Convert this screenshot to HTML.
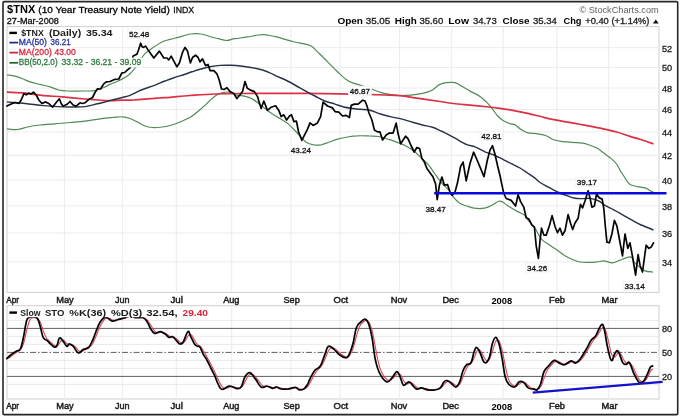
<!DOCTYPE html>
<html><head><meta charset="utf-8"><title>$TNX</title>
<style>html,body{margin:0;padding:0;background:#fff;width:680px;height:417px;overflow:hidden}</style></head>
<body>
<svg width="680" height="417" viewBox="0 0 680 417" style="position:absolute;left:0;top:0;will-change:transform;filter:blur(0.3px);font-family:'Liberation Sans',sans-serif">
<rect x="0" y="0" width="680" height="417" fill="#fff"/>
<rect x="3" y="1.6" width="674.7" height="413" rx="1.2" ry="1.2" fill="none" stroke="#262626" stroke-width="1.6"/>
<rect x="7.0" y="26.6" width="652.0" height="265.79999999999995" fill="#fff" stroke="#cfcfcf" stroke-width="1"/>
<rect x="7.0" y="305.7" width="652.0" height="93.30000000000001" fill="#fff" stroke="#cfcfcf" stroke-width="1"/>
<path d="M7.0,47.7H659.0M7.0,67.5H659.0M7.0,88.0H659.0M7.0,109.5H659.0M7.0,131.9H659.0M7.0,155.3H659.0M7.0,179.9H659.0M7.0,205.8H659.0M7.0,233.0H659.0M7.0,261.8H659.0M64.4,26.6V292.4M64.4,305.7V399.0M122.4,26.6V292.4M122.4,305.7V399.0M176.3,26.6V292.4M176.3,305.7V399.0M231.7,26.6V292.4M231.7,305.7V399.0M291,26.6V292.4M291,305.7V399.0M340,26.6V292.4M340,305.7V399.0M399.6,26.6V292.4M399.6,305.7V399.0M451.7,26.6V292.4M451.7,305.7V399.0M503.2,26.6V292.4M503.2,305.7V399.0M556.9,26.6V292.4M556.9,305.7V399.0M608.7,26.6V292.4M608.7,305.7V399.0" stroke="#ececec" stroke-width="1" fill="none"/>
<path d="M7.0,384.4H659.0M7.0,368.4H659.0M7.0,360.4H659.0M7.0,344.4H659.0M7.0,336.4H659.0M7.0,320.4H659.0" stroke="#e9e9e9" stroke-width="1" fill="none"/>
<path d="M7.0,328.4H659.0M7.0,376.4H659.0" stroke="#606060" stroke-width="1" fill="none"/>
<path d="M7.0,352.4H659.0" stroke="#606060" stroke-width="1" stroke-dasharray="6,2,1.5,2" fill="none"/>
<path d="M6.9,75.0 C8.2,75.2 12.4,75.6 15.0,76.2 C17.6,76.9 20.0,77.8 22.5,78.8 C25.0,79.7 27.1,81.0 30.0,81.9 C32.9,82.8 36.7,83.6 40.0,84.4 C43.3,85.2 46.9,86.0 50.0,86.9 C53.1,87.8 55.8,89.3 58.8,90.0 C61.7,90.7 63.1,90.8 67.5,91.0 C71.9,91.2 80.4,91.1 85.0,91.0 C89.6,90.9 91.9,91.2 95.0,90.6 C98.1,90.0 101.2,88.5 103.8,87.5 C106.2,86.5 107.7,85.4 110.0,84.4 C112.3,83.4 115.0,82.4 117.5,81.2 C120.0,80.1 122.9,78.8 125.0,77.5 C127.1,76.2 128.3,75.3 130.0,73.8 C131.7,72.2 133.3,70.2 135.0,68.0 C136.7,65.8 138.3,62.9 140.0,60.5 C141.7,58.1 142.9,55.7 145.0,53.6 C147.1,51.5 149.6,50.0 152.5,48.0 C155.4,46.0 159.6,43.2 162.5,41.8 C165.4,40.3 167.3,40.2 170.0,39.4 C172.7,38.6 175.4,38.1 178.8,37.2 C182.2,36.3 186.9,34.5 190.6,34.0 C194.3,33.5 197.7,33.6 200.9,34.0 C204.1,34.4 206.8,35.7 209.7,36.5 C212.6,37.3 215.7,38.0 218.5,38.7 C221.3,39.4 223.9,40.5 226.6,40.5 C229.3,40.5 231.4,39.2 234.7,38.7 C238.0,38.2 242.6,37.8 246.5,37.2 C250.4,36.6 255.3,35.4 258.2,35.0 C261.1,34.6 262.1,34.5 264.1,34.6 C266.1,34.7 267.8,35.1 270.0,35.5 C272.2,35.9 273.8,36.2 277.5,37.2 C281.2,38.2 288.8,40.5 292.5,41.5 C296.2,42.5 297.0,42.4 300.0,43.1 C303.0,43.8 307.4,44.0 310.7,45.8 C313.9,47.6 316.6,51.0 319.5,53.8 C322.4,56.6 325.4,59.6 328.4,62.6 C331.4,65.5 334.3,68.7 337.3,71.5 C340.3,74.3 343.5,77.6 346.2,79.5 C348.9,81.4 350.6,82.1 353.3,83.1 C356.0,84.1 358.6,84.5 362.2,85.7 C365.8,86.9 370.8,88.9 374.6,90.2 C378.5,91.5 381.2,92.8 385.3,93.7 C389.4,94.6 395.3,95.2 399.5,95.5 C403.7,95.8 407.1,95.5 410.7,95.2 C414.3,94.9 417.8,94.5 421.3,93.7 C424.9,92.9 429.1,91.7 432.0,90.2 C434.9,88.7 436.6,86.2 439.0,84.9 C441.4,83.7 443.5,83.1 446.2,82.7 C448.9,82.3 452.3,82.1 455.0,82.7 C457.7,83.3 459.5,85.1 462.2,86.6 C464.9,88.1 468.0,90.0 471.0,91.6 C474.0,93.2 477.3,94.6 480.0,96.4 C482.7,98.2 484.9,100.5 487.0,102.6 C489.1,104.7 490.6,106.6 492.4,108.8 C494.2,111.0 495.9,114.1 497.7,116.0 C499.5,117.9 500.9,119.1 503.0,120.4 C505.1,121.7 507.9,122.8 510.0,123.6 C512.0,124.3 513.5,124.0 515.3,124.9 C517.1,125.9 518.6,128.0 520.7,129.3 C522.8,130.6 525.1,132.2 527.8,132.9 C530.4,133.6 533.6,133.3 536.6,133.7 C539.6,134.1 542.5,134.4 545.5,135.5 C548.5,136.6 551.4,139.0 554.4,140.0 C557.4,141.0 560.3,141.3 563.3,141.7 C566.3,142.1 569.0,142.1 572.2,142.3 C575.5,142.6 579.8,142.7 582.8,143.2 C585.8,143.7 587.6,144.5 590.0,145.3 C592.4,146.1 594.6,146.7 597.0,148.0 C599.4,149.3 601.7,151.5 604.1,153.3 C606.5,155.1 609.1,156.8 611.2,158.6 C613.3,160.4 615.1,161.9 616.6,164.0 C618.1,166.1 619.3,169.0 620.5,171.0 C621.7,173.0 622.5,174.1 623.8,176.0 C625.0,177.9 626.8,181.0 628.0,182.5 C629.2,184.0 629.4,184.3 631.0,185.0 C632.6,185.7 635.2,186.1 637.5,186.6 C639.8,187.1 643.1,187.3 645.0,187.9 C646.9,188.5 647.6,189.2 649.0,190.0 C650.4,190.8 652.8,192.1 653.5,192.5" stroke="#4f8a58" stroke-width="1.2" fill="none"/>
<path d="M7.0,128.8 C8.8,128.9 14.1,129.8 17.5,129.5 C20.9,129.2 23.8,127.8 27.5,127.0 C31.2,126.2 35.4,125.5 40.0,125.0 C44.6,124.5 50.0,124.2 55.0,123.8 C60.0,123.3 65.0,122.9 70.0,122.5 C75.0,122.1 80.0,121.9 85.0,121.2 C90.0,120.6 95.4,119.4 100.0,118.8 C104.6,118.1 108.8,117.8 112.5,117.5 C116.2,117.2 119.6,116.6 122.5,116.8 C125.4,116.9 127.5,117.6 130.0,118.5 C132.5,119.4 135.0,120.8 137.5,122.0 C140.0,123.2 142.5,125.1 145.0,126.0 C147.5,126.9 149.6,127.3 152.5,127.5 C155.4,127.7 159.6,127.3 162.5,127.0 C165.4,126.7 167.1,126.3 170.0,125.5 C172.9,124.7 176.5,123.5 180.0,122.0 C183.5,120.5 187.7,118.8 191.0,116.8 C194.3,114.8 197.0,112.2 200.0,109.7 C203.0,107.2 206.2,104.1 208.8,101.7 C211.5,99.3 213.5,97.0 215.9,95.5 C218.3,94.0 220.8,93.3 223.0,92.7 C225.2,92.1 226.8,91.8 229.0,92.1 C231.2,92.4 233.4,94.0 236.2,94.8 C239.1,95.5 243.5,95.9 246.2,96.6 C249.0,97.3 250.4,97.9 252.5,99.1 C254.6,100.2 256.7,101.9 258.8,103.5 C260.8,105.1 262.7,106.7 265.0,108.5 C267.3,110.3 270.0,112.4 272.5,114.1 C275.0,115.8 277.5,117.0 280.0,118.5 C282.5,120.0 285.3,121.6 287.5,123.3 C289.7,125.0 290.9,126.4 293.0,128.5 C295.1,130.6 297.8,133.7 300.0,136.0 C302.2,138.3 304.0,140.8 306.2,142.2 C308.5,143.7 311.2,144.3 313.8,144.8 C316.2,145.2 318.8,145.2 321.2,144.8 C323.8,144.3 326.0,143.2 328.8,142.2 C331.5,141.3 334.4,140.0 337.5,139.1 C340.6,138.2 344.2,137.6 347.5,137.0 C350.8,136.4 353.8,135.9 357.5,135.8 C361.2,135.6 366.5,135.9 370.0,136.0 C373.5,136.1 375.6,135.9 378.8,136.5 C381.9,137.1 385.6,138.4 388.8,139.4 C391.9,140.4 394.8,141.5 397.5,142.5 C400.2,143.5 402.5,144.2 405.0,145.5 C407.5,146.8 409.8,148.0 412.5,150.0 C415.2,152.0 418.5,155.2 421.2,157.8 C424.0,160.3 426.5,162.6 428.8,165.2 C431.0,167.9 432.4,170.5 434.6,173.5 C436.8,176.5 439.4,180.3 441.8,183.2 C444.2,186.0 447.2,188.3 449.1,190.6 C451.1,192.9 451.8,195.1 453.5,197.2 C455.2,199.3 457.2,201.6 459.4,203.1 C461.6,204.6 464.4,205.2 466.8,206.0 C469.2,206.8 471.2,207.8 474.1,208.2 C477.0,208.6 481.4,208.7 484.4,208.2 C487.3,207.7 489.4,206.5 491.8,205.3 C494.2,204.2 496.8,201.9 498.5,201.3 C500.2,200.7 500.2,200.7 502.0,201.6 C503.8,202.5 506.7,205.1 509.4,206.8 C512.1,208.5 515.8,210.6 518.2,211.9 C520.7,213.2 522.4,213.5 524.1,214.9 C525.8,216.3 526.7,218.3 528.5,220.5 C530.3,222.7 532.9,225.2 535.0,228.2 C537.1,231.3 539.0,236.2 541.2,238.9 C543.5,241.6 546.2,242.7 548.8,244.5 C551.2,246.3 553.5,247.6 556.2,249.5 C559.0,251.4 562.3,254.1 565.0,255.8 C567.7,257.4 570.0,258.5 572.5,259.5 C575.0,260.5 577.1,261.5 580.0,262.0 C582.9,262.5 587.2,262.4 590.0,262.4 C592.8,262.4 594.7,262.2 597.0,262.0 C599.3,261.8 601.2,260.8 603.8,260.9 C606.3,261.0 609.8,262.9 612.5,262.8 C615.2,262.6 617.7,261.1 620.0,260.2 C622.3,259.4 624.4,258.3 626.2,257.8 C628.1,257.2 630.0,256.5 631.2,257.1 C632.5,257.7 632.6,260.0 633.8,261.5 C634.9,263.0 636.1,264.4 638.0,266.0 C639.9,267.6 642.5,269.9 645.0,270.9 C647.5,271.9 651.7,271.9 653.0,272.1" stroke="#4f8a58" stroke-width="1.2" fill="none"/>
<path d="M6.9,92.2 C9.9,92.4 18.9,92.5 25.0,93.1 C31.1,93.7 37.5,95.0 43.8,95.6 C50.0,96.2 55.6,96.3 62.5,96.9 C69.4,97.5 79.2,98.5 85.0,99.0 C90.8,99.5 93.3,99.7 97.5,100.0 C101.7,100.3 105.8,100.6 110.0,100.6 C114.2,100.6 118.3,100.3 122.5,100.2 C126.7,100.1 130.8,100.0 135.0,99.8 C139.2,99.5 143.3,99.1 147.5,98.8 C151.7,98.4 156.2,98.0 160.0,97.8 C163.8,97.5 165.0,97.7 170.0,97.3 C175.0,96.9 182.5,96.0 190.0,95.5 C197.5,95.0 206.7,94.3 215.0,94.0 C223.3,93.7 227.5,93.6 240.0,93.5 C252.5,93.4 273.3,93.4 290.0,93.4 C306.7,93.4 327.5,93.6 340.0,93.8 C352.5,93.9 357.5,94.1 365.0,94.3 C372.5,94.5 379.2,94.8 385.0,95.0 C390.8,95.2 395.0,95.2 400.0,95.7 C405.0,96.2 408.3,96.8 415.0,97.8 C421.7,98.8 433.6,100.5 440.0,101.5 C446.4,102.5 448.3,102.9 453.3,103.5 C458.3,104.1 464.1,104.6 470.0,105.2 C475.9,105.8 483.8,106.5 488.8,107.0 C493.8,107.5 496.5,107.9 500.0,108.4 C503.5,108.9 505.4,109.0 510.0,109.8 C514.6,110.6 521.9,112.0 527.8,113.3 C533.7,114.6 539.6,116.5 545.5,117.8 C551.4,119.1 557.4,120.2 563.3,121.3 C569.2,122.4 575.1,123.4 581.0,124.5 C586.9,125.6 592.9,126.7 598.8,127.9 C604.7,129.2 611.4,130.6 616.6,132.0 C621.8,133.4 626.1,135.2 630.0,136.4 C633.9,137.6 636.1,138.1 640.0,139.3 C643.9,140.6 651.2,143.1 653.5,143.9" stroke="#dc3045" stroke-width="1.7" fill="none"/>
<path d="M6.9,101.9 C9.9,102.2 18.9,102.9 25.0,103.5 C31.1,104.1 37.5,105.0 43.8,105.6 C50.0,106.2 57.3,106.7 62.5,106.9 C67.7,107.1 71.2,107.0 75.0,107.0 C78.8,107.0 81.2,107.1 85.0,106.6 C88.8,106.1 93.3,104.8 97.5,103.8 C101.7,102.8 105.8,101.6 110.0,100.6 C114.2,99.6 119.2,98.4 122.5,97.5 C125.8,96.6 126.9,96.7 130.0,95.4 C133.1,94.2 137.3,91.6 141.2,90.0 C145.2,88.4 149.8,87.1 153.8,85.6 C157.7,84.1 161.6,82.3 165.0,81.0 C168.4,79.7 170.7,78.8 174.0,77.7 C177.3,76.6 182.0,75.2 185.0,74.2 C188.0,73.2 189.5,72.6 192.0,71.8 C194.5,71.0 197.0,70.1 200.0,69.3 C203.0,68.5 206.7,67.4 210.0,66.8 C213.3,66.2 216.5,65.7 220.0,65.4 C223.5,65.2 227.5,65.2 231.2,65.3 C235.0,65.4 239.0,65.8 242.5,66.2 C246.0,66.7 249.2,67.1 252.5,67.8 C255.8,68.4 259.6,69.2 262.5,70.0 C265.4,70.8 267.8,71.8 270.0,72.8 C272.2,73.7 273.1,74.4 276.0,75.8 C278.9,77.2 283.5,79.0 287.5,81.0 C291.5,83.0 295.4,85.4 300.0,87.9 C304.6,90.4 310.8,93.8 315.0,96.0 C319.2,98.2 321.7,99.7 325.0,101.0 C328.3,102.3 331.9,103.1 335.0,104.1 C338.1,105.1 340.8,106.3 343.8,107.0 C346.7,107.7 349.8,108.1 352.5,108.5 C355.2,108.9 357.1,108.9 360.0,109.2 C362.9,109.5 366.7,109.5 370.0,110.2 C373.3,111.0 376.5,112.6 380.0,113.8 C383.5,114.9 387.7,116.0 391.2,116.9 C394.8,117.8 397.7,118.0 401.2,118.9 C404.8,119.8 409.0,121.3 412.5,122.3 C416.0,123.3 419.2,124.2 422.5,125.0 C425.8,125.8 429.6,126.3 432.5,127.2 C435.4,128.1 437.9,129.7 440.0,130.6 C442.1,131.5 442.5,131.5 445.0,132.8 C447.5,134.0 451.5,136.3 455.0,138.2 C458.5,140.1 462.9,142.9 466.2,144.3 C469.6,145.8 471.9,145.7 475.0,146.9 C478.1,148.1 481.7,150.3 485.0,151.8 C488.3,153.2 492.1,154.2 495.0,155.5 C497.9,156.8 499.8,157.9 502.5,159.2 C505.2,160.6 508.3,162.1 511.2,163.6 C514.2,165.1 517.3,166.4 520.0,168.0 C522.7,169.6 525.0,171.3 527.5,173.0 C530.0,174.7 532.9,176.6 535.0,178.2 C537.1,179.8 537.8,181.0 540.0,182.5 C542.2,184.0 545.1,185.4 548.0,187.0 C550.9,188.6 554.5,190.6 557.5,192.0 C560.5,193.4 563.3,194.3 566.2,195.4 C569.2,196.5 572.1,197.8 575.0,198.3 C577.9,198.8 581.2,198.6 583.8,198.6 C586.2,198.6 587.5,198.0 590.0,198.4 C592.5,198.8 596.2,199.8 598.8,201.0 C601.2,202.2 602.5,203.9 605.0,205.4 C607.5,206.9 610.8,208.2 613.8,209.8 C616.7,211.3 619.4,213.0 622.5,214.8 C625.6,216.5 629.4,218.7 632.5,220.4 C635.6,222.1 638.3,223.7 641.2,225.0 C644.2,226.3 648.0,227.6 650.0,228.5 C652.0,229.4 652.9,229.9 653.5,230.2" stroke="#283246" stroke-width="1.45" fill="none"/>
<path d="M6.9,106.0 L11.2,104.0 L15.0,102.5 L18.8,103.5 L21.2,100.0 L23.8,93.8 L26.2,94.8 L28.8,93.1 L31.2,94.0 L33.5,92.2 L36.2,95.0 L38.8,100.0 L41.9,103.5 L45.6,101.9 L48.8,103.5 L52.5,107.2 L56.2,102.5 L59.4,98.8 L61.2,103.5 L63.1,106.2 L67.5,104.0 L70.0,101.5 L73.1,105.0 L76.2,106.2 L80.0,102.8 L82.5,103.5 L85.0,102.8 L88.8,99.4 L92.5,97.5 L95.0,92.5 L97.5,88.8 L100.6,89.0 L103.8,83.8 L106.2,81.9 L110.0,81.5 L115.0,79.3 L118.8,79.0 L121.9,72.8 L124.6,72.5 L127.5,69.8 L130.6,67.4 L133.1,56.1 L136.9,54.2 L138.8,49.2 L140.6,43.2 L142.2,46.8 L143.5,47.4 L145.6,46.1 L148.8,51.1 L153.8,58.0 L159.4,51.1 L163.8,58.0 L166.9,58.0 L168.8,59.9 L171.2,56.1 L176.9,66.8 L179.4,63.0 L182.5,52.4 L185.0,47.4 L187.5,51.1 L190.4,63.0 L192.5,57.5 L195.6,55.2 L198.1,57.5 L200.0,61.9 L202.5,58.8 L205.6,65.6 L208.1,64.4 L210.0,70.6 L213.8,70.6 L216.9,73.8 L219.2,80.0 L221.5,89.0 L224.4,89.3 L226.9,87.7 L230.0,91.4 L233.8,93.5 L236.9,98.5 L240.0,94.8 L242.5,91.6 L245.0,81.5 L247.3,88.3 L251.2,90.4 L254.4,91.6 L257.5,96.6 L259.4,102.9 L261.2,108.5 L263.8,101.0 L267.5,110.4 L271.2,107.2 L275.6,105.8 L278.8,110.4 L281.2,116.6 L283.8,114.8 L286.6,120.0 L289.5,116.0 L291.5,114.8 L293.9,121.6 L296.4,121.0 L298.6,132.0 L301.8,140.3 L305.0,134.1 L307.5,129.1 L310.0,122.9 L313.1,125.4 L317.5,122.9 L320.6,116.6 L323.1,102.2 L327.5,106.0 L332.5,107.9 L335.0,111.6 L338.8,112.2 L342.5,116.0 L346.2,115.4 L349.4,117.5 L351.2,105.4 L354.4,104.1 L358.1,104.1 L362.7,100.2 L365.0,101.0 L367.0,106.0 L368.8,112.5 L371.9,120.0 L374.4,130.0 L377.5,131.9 L380.0,131.9 L382.5,140.0 L386.2,135.0 L389.4,133.1 L393.1,133.1 L396.2,123.1 L398.1,133.8 L400.6,143.8 L405.6,136.2 L408.1,138.8 L411.0,145.5 L414.2,152.0 L416.9,147.5 L419.6,148.6 L421.9,158.4 L424.4,162.1 L426.9,168.4 L430.0,172.8 L433.1,177.1 L435.6,184.0 L437.2,199.7 L439.4,185.2 L441.9,177.1 L444.4,185.2 L447.5,184.6 L450.0,192.1 L452.0,195.3 L455.0,192.1 L457.5,182.8 L460.6,166.5 L463.1,162.1 L466.2,180.9 L470.0,163.5 L473.6,152.2 L477.5,161.0 L484.0,176.6 L487.5,159.5 L490.0,150.2 L492.5,145.7 L495.0,154.2 L497.5,165.5 L500.0,175.5 L501.9,184.8 L503.8,193.5 L506.2,198.5 L511.2,200.4 L515.6,206.0 L518.1,194.8 L520.6,201.6 L523.8,207.2 L526.2,217.7 L528.8,219.0 L531.9,225.1 L534.4,227.0 L536.2,245.8 L538.4,258.3 L540.0,240.8 L541.5,228.2 L543.8,235.1 L546.2,235.1 L549.4,225.8 L552.1,215.6 L555.0,226.5 L557.5,232.6 L560.0,228.2 L562.5,235.1 L565.0,230.8 L568.1,214.6 L570.6,223.5 L572.7,229.5 L575.0,223.0 L578.1,218.3 L580.4,204.3 L582.5,207.9 L585.0,201.0 L588.1,190.8 L590.0,197.9 L591.9,207.2 L594.4,206.0 L596.5,194.1 L599.4,197.9 L602.2,199.1 L603.8,208.5 L605.3,226.0 L606.9,242.1 L609.4,242.8 L611.9,234.0 L614.4,220.4 L616.9,226.0 L619.4,239.0 L622.5,255.9 L625.0,234.0 L627.8,248.4 L630.0,242.8 L632.5,256.5 L635.6,275.1 L638.1,254.6 L640.0,265.2 L642.5,272.0 L645.0,253.4 L646.2,245.2 L648.8,248.4 L651.2,247.1 L653.5,242.8" stroke="#050505" stroke-width="1.7" fill="none" stroke-linejoin="round" stroke-linecap="round"/>
<path d="M434.2,193.3H666.5" stroke="#0a0adc" stroke-width="2.4" fill="none"/>
<path d="M6.8,358.6 C7.0,358.5 7.7,358.4 8.1,358.2 C8.5,358.1 9.0,357.9 9.4,357.6 C9.8,357.4 10.3,357.1 10.7,356.8 C11.1,356.5 11.6,356.1 12.0,355.7 C12.4,355.3 12.9,355.0 13.3,354.6 C13.7,354.3 14.2,354.0 14.6,353.7 C15.0,353.4 15.5,353.0 15.9,352.7 C16.3,352.5 16.8,352.2 17.2,351.9 C17.6,351.6 18.1,351.3 18.5,351.1 C18.9,350.8 19.4,350.7 19.8,350.3 C20.2,349.9 20.7,349.4 21.1,348.7 C21.5,348.1 22.0,347.5 22.4,346.5 C22.8,345.5 23.3,344.3 23.7,342.9 C24.1,341.4 24.6,339.6 25.0,337.7 C25.4,335.9 25.9,333.8 26.3,331.9 C26.7,330.1 27.2,328.4 27.6,326.8 C28.0,325.3 28.5,323.7 28.9,322.5 C29.3,321.3 29.8,320.2 30.2,319.5 C30.6,318.9 31.1,318.7 31.5,318.4 C31.9,318.1 32.4,317.9 32.8,317.8 C33.2,317.7 33.7,317.8 34.1,317.8 C34.5,317.8 35.0,317.8 35.4,317.8 C35.8,317.8 36.3,317.7 36.7,317.9 C37.1,318.0 37.6,318.4 38.0,318.8 C38.4,319.3 38.9,319.7 39.3,320.4 C39.7,321.1 40.2,321.8 40.6,322.8 C41.0,323.9 41.5,325.1 41.9,326.4 C42.3,327.7 42.8,329.4 43.2,330.6 C43.6,331.9 44.1,332.9 44.5,333.9 C44.9,335.0 45.4,336.0 45.8,336.8 C46.2,337.6 46.7,338.4 47.1,339.0 C47.5,339.6 48.0,339.7 48.4,340.1 C48.8,340.5 49.3,340.9 49.7,341.3 C50.1,341.7 50.6,342.1 51.0,342.5 C51.4,342.9 51.9,343.3 52.3,343.7 C52.7,344.1 53.2,344.5 53.6,344.9 C54.0,345.2 54.5,345.6 54.9,345.8 C55.3,346.0 55.8,346.2 56.2,346.2 C56.6,346.2 57.1,346.0 57.5,345.7 C57.9,345.3 58.4,344.8 58.8,344.2 C59.2,343.6 59.7,342.8 60.1,342.2 C60.5,341.6 61.0,340.9 61.4,340.5 C61.8,340.1 62.3,339.9 62.7,339.8 C63.1,339.8 63.6,340.1 64.0,340.5 C64.4,340.8 64.9,341.4 65.3,341.8 C65.7,342.3 66.2,343.0 66.6,343.4 C67.0,343.8 67.5,344.1 67.9,344.3 C68.3,344.5 68.8,344.6 69.2,344.7 C69.6,344.8 70.1,345.1 70.5,345.1 C70.9,345.2 71.4,345.0 71.8,344.9 C72.2,344.9 72.7,344.9 73.1,345.1 C73.5,345.3 74.0,345.7 74.4,346.1 C74.8,346.5 75.3,346.9 75.7,347.3 C76.1,347.8 76.6,348.2 77.0,348.7 C77.4,349.3 77.9,350.0 78.3,350.4 C78.7,350.8 79.2,351.1 79.6,351.3 C80.0,351.5 80.5,351.6 80.9,351.6 C81.3,351.7 81.8,351.6 82.2,351.5 C82.6,351.3 83.1,350.9 83.5,350.6 C83.9,350.4 84.4,350.1 84.8,349.9 C85.2,349.6 85.7,349.4 86.1,349.2 C86.5,349.0 87.0,348.8 87.4,348.6 C87.8,348.4 88.3,348.3 88.7,348.0 C89.1,347.8 89.6,347.4 90.0,346.9 C90.4,346.5 90.9,346.0 91.3,345.5 C91.7,344.9 92.2,344.4 92.6,343.7 C93.0,342.9 93.5,341.9 93.9,341.0 C94.3,340.1 94.8,339.1 95.2,338.2 C95.6,337.2 96.1,336.2 96.5,335.1 C96.9,334.1 97.4,333.0 97.8,331.9 C98.2,330.8 98.7,329.8 99.1,328.7 C99.5,327.7 100.0,326.7 100.4,325.8 C100.8,324.9 101.3,324.1 101.7,323.4 C102.1,322.6 102.6,322.0 103.0,321.4 C103.4,320.8 103.9,320.1 104.3,319.7 C104.7,319.2 105.2,319.0 105.6,318.8 C106.0,318.5 106.5,318.3 106.9,318.2 C107.3,318.0 107.8,318.0 108.2,318.0 C108.6,318.0 109.1,318.2 109.5,318.4 C109.9,318.5 110.4,318.7 110.8,318.9 C111.2,319.2 111.7,319.5 112.1,319.8 C112.5,320.0 113.0,320.1 113.4,320.2 C113.8,320.4 114.3,320.5 114.7,320.5 C115.1,320.6 115.6,320.6 116.0,320.6 C116.4,320.5 116.9,320.3 117.3,320.2 C117.7,320.1 118.2,320.0 118.6,319.8 C119.0,319.7 119.5,319.6 119.9,319.5 C120.3,319.4 120.8,319.3 121.2,319.1 C121.6,319.0 122.1,318.9 122.5,318.8 C122.9,318.7 123.4,318.6 123.8,318.5 C124.2,318.3 124.7,318.3 125.1,318.1 C125.5,318.0 126.0,317.8 126.4,317.7 C126.8,317.5 127.3,317.3 127.7,317.2 C128.1,317.0 128.6,316.8 129.0,316.6 C129.4,316.4 129.9,316.1 130.3,316.0 C130.7,315.8 131.2,315.8 131.6,315.7 C132.0,315.7 132.5,315.8 132.9,315.8 C133.3,315.9 133.8,316.0 134.2,316.2 C134.6,316.4 135.1,316.6 135.5,316.8 C135.9,317.0 136.4,317.1 136.8,317.3 C137.2,317.4 137.7,317.4 138.1,317.5 C138.5,317.6 139.0,317.6 139.4,317.7 C139.8,317.7 140.3,317.7 140.7,317.7 C141.1,317.7 141.6,317.7 142.0,317.7 C142.4,317.7 142.9,317.7 143.3,317.8 C143.7,317.9 144.2,318.1 144.6,318.3 C145.0,318.5 145.5,318.7 145.9,319.0 C146.3,319.3 146.8,319.5 147.2,320.0 C147.6,320.4 148.1,321.1 148.5,321.7 C148.9,322.3 149.4,323.0 149.8,323.7 C150.2,324.3 150.7,325.0 151.1,325.7 C151.5,326.4 152.0,327.2 152.4,327.9 C152.8,328.6 153.3,329.2 153.7,329.8 C154.1,330.4 154.6,330.9 155.0,331.3 C155.4,331.7 155.9,332.0 156.3,332.2 C156.7,332.4 157.2,332.5 157.6,332.6 C158.0,332.7 158.5,332.7 158.9,332.6 C159.3,332.6 159.8,332.3 160.2,332.3 C160.6,332.2 161.1,332.2 161.5,332.2 C161.9,332.2 162.4,332.3 162.8,332.3 C163.2,332.4 163.7,332.5 164.1,332.7 C164.5,332.8 165.0,333.1 165.4,333.3 C165.8,333.6 166.3,333.8 166.7,334.1 C167.1,334.4 167.6,334.7 168.0,335.0 C168.4,335.3 168.9,335.7 169.3,335.9 C169.7,336.2 170.2,336.4 170.6,336.5 C171.0,336.7 171.5,336.7 171.9,336.8 C172.3,336.9 172.8,337.1 173.2,337.2 C173.6,337.3 174.1,337.3 174.5,337.4 C174.9,337.6 175.4,337.9 175.8,338.2 C176.2,338.5 176.7,338.9 177.1,339.3 C177.5,339.7 178.0,340.2 178.4,340.6 C178.8,341.0 179.3,341.6 179.7,341.9 C180.1,342.2 180.6,342.4 181.0,342.6 C181.4,342.8 181.9,343.0 182.3,343.0 C182.7,343.0 183.2,343.0 183.6,342.7 C184.0,342.4 184.5,341.9 184.9,341.3 C185.3,340.7 185.8,340.0 186.2,339.2 C186.6,338.5 187.1,337.5 187.5,336.8 C187.9,336.1 188.4,335.5 188.8,335.1 C189.2,334.6 189.7,334.3 190.1,334.2 C190.5,334.2 191.0,334.4 191.4,334.8 C191.8,335.2 192.3,336.0 192.7,336.8 C193.1,337.5 193.6,338.4 194.0,339.2 C194.4,340.0 194.9,340.7 195.3,341.4 C195.7,342.1 196.2,342.8 196.6,343.4 C197.0,343.9 197.5,344.4 197.9,344.8 C198.3,345.2 198.8,345.5 199.2,345.8 C199.6,346.1 200.1,346.4 200.5,346.8 C200.9,347.2 201.4,347.6 201.8,348.2 C202.2,348.8 202.7,349.5 203.1,350.2 C203.5,350.9 204.0,351.6 204.4,352.4 C204.8,353.2 205.3,354.0 205.7,354.8 C206.1,355.7 206.6,356.4 207.0,357.2 C207.4,358.0 207.9,358.7 208.3,359.4 C208.7,360.2 209.2,361.0 209.6,361.8 C210.0,362.6 210.5,363.5 210.9,364.3 C211.3,365.1 211.8,366.0 212.2,366.9 C212.6,367.7 213.1,368.6 213.5,369.5 C213.9,370.3 214.4,371.2 214.8,372.1 C215.2,373.0 215.7,373.9 216.1,374.9 C216.5,375.8 217.0,376.9 217.4,377.8 C217.8,378.8 218.3,379.7 218.7,380.6 C219.1,381.5 219.6,382.5 220.0,383.3 C220.4,384.2 220.9,385.0 221.3,385.6 C221.7,386.3 222.2,386.8 222.6,387.2 C223.0,387.7 223.5,388.0 223.9,388.2 C224.3,388.4 224.8,388.5 225.2,388.5 C225.6,388.5 226.1,388.4 226.5,388.3 C226.9,388.1 227.4,387.9 227.8,387.7 C228.2,387.5 228.7,387.3 229.1,387.1 C229.5,387.0 230.0,386.9 230.4,386.8 C230.8,386.7 231.3,386.7 231.7,386.7 C232.1,386.7 232.6,386.7 233.0,386.8 C233.4,386.8 233.9,387.0 234.3,387.1 C234.7,387.2 235.2,387.4 235.6,387.5 C236.0,387.6 236.5,387.8 236.9,387.9 C237.3,388.0 237.8,388.0 238.2,388.0 C238.6,388.1 239.1,388.1 239.5,388.0 C239.9,387.9 240.4,387.9 240.8,387.6 C241.2,387.4 241.7,387.0 242.1,386.6 C242.5,386.1 243.0,385.6 243.4,384.9 C243.8,384.1 244.3,383.1 244.7,382.2 C245.1,381.4 245.6,380.6 246.0,379.8 C246.4,379.0 246.9,378.2 247.3,377.4 C247.7,376.7 248.2,376.0 248.6,375.5 C249.0,374.9 249.5,374.6 249.9,374.4 C250.3,374.2 250.8,374.1 251.2,374.1 C251.6,374.1 252.1,374.2 252.5,374.3 C252.9,374.5 253.4,374.7 253.8,375.1 C254.2,375.5 254.7,376.0 255.1,376.5 C255.5,377.0 256.0,377.5 256.4,378.0 C256.8,378.6 257.3,379.1 257.7,379.6 C258.1,380.2 258.6,380.7 259.0,381.3 C259.4,381.9 259.9,382.6 260.3,383.2 C260.7,383.7 261.2,384.3 261.6,384.8 C262.0,385.2 262.5,385.6 262.9,385.9 C263.3,386.2 263.8,386.3 264.2,386.5 C264.6,386.6 265.1,386.6 265.5,386.6 C265.9,386.6 266.4,386.5 266.8,386.5 C267.2,386.4 267.7,386.5 268.1,386.5 C268.5,386.5 269.0,386.6 269.4,386.7 C269.8,386.7 270.3,386.8 270.7,386.9 C271.1,387.1 271.6,387.3 272.0,387.4 C272.4,387.5 272.9,387.6 273.3,387.7 C273.7,387.8 274.2,387.8 274.6,387.8 C275.0,387.8 275.5,387.8 275.9,387.7 C276.3,387.7 276.8,387.6 277.2,387.6 C277.6,387.5 278.1,387.5 278.5,387.5 C278.9,387.5 279.4,387.6 279.8,387.7 C280.2,387.8 280.7,388.0 281.1,388.1 C281.5,388.2 282.0,388.4 282.4,388.5 C282.8,388.6 283.3,388.7 283.7,388.8 C284.1,388.9 284.6,388.9 285.0,389.0 C285.4,389.0 285.9,389.0 286.3,389.0 C286.7,389.0 287.2,389.0 287.6,389.0 C288.0,389.0 288.5,389.0 288.9,388.9 C289.3,388.9 289.8,388.8 290.2,388.8 C290.6,388.7 291.1,388.7 291.5,388.6 C291.9,388.5 292.4,388.4 292.8,388.3 C293.2,388.2 293.7,388.1 294.1,388.0 C294.5,387.9 295.0,387.8 295.4,387.7 C295.8,387.7 296.3,387.8 296.7,387.8 C297.1,387.9 297.6,388.0 298.0,388.1 C298.4,388.3 298.9,388.5 299.3,388.7 C299.7,388.8 300.2,389.0 300.6,389.1 C301.0,389.2 301.5,389.3 301.9,389.3 C302.3,389.4 302.8,389.4 303.2,389.4 C303.6,389.3 304.1,389.1 304.5,388.9 C304.9,388.7 305.4,388.5 305.8,388.2 C306.2,387.9 306.7,387.6 307.1,387.1 C307.5,386.7 308.0,386.1 308.4,385.5 C308.8,384.9 309.3,384.1 309.7,383.4 C310.1,382.6 310.6,381.9 311.0,381.0 C311.4,380.2 311.9,379.4 312.3,378.5 C312.7,377.7 313.2,376.8 313.6,376.0 C314.0,375.2 314.5,374.4 314.9,373.7 C315.3,373.0 315.8,372.3 316.2,371.7 C316.6,371.1 317.1,370.6 317.5,370.1 C317.9,369.6 318.4,369.1 318.8,368.7 C319.2,368.3 319.7,368.1 320.1,367.7 C320.5,367.2 321.0,366.6 321.4,366.0 C321.8,365.4 322.3,364.7 322.7,363.9 C323.1,363.2 323.6,362.4 324.0,361.4 C324.4,360.5 324.9,359.3 325.3,358.2 C325.7,357.2 326.2,356.1 326.6,355.0 C327.0,353.9 327.5,352.7 327.9,351.8 C328.3,350.9 328.8,350.2 329.2,349.6 C329.6,348.9 330.1,348.4 330.5,348.1 C330.9,347.7 331.4,347.4 331.8,347.4 C332.2,347.4 332.7,347.7 333.1,347.8 C333.5,348.0 334.0,348.3 334.4,348.6 C334.8,348.8 335.3,349.1 335.7,349.4 C336.1,349.7 336.6,350.1 337.0,350.5 C337.4,350.9 337.9,351.3 338.3,351.7 C338.7,352.1 339.2,352.6 339.6,353.0 C340.0,353.4 340.5,353.7 340.9,354.1 C341.3,354.4 341.8,354.7 342.2,355.0 C342.6,355.3 343.1,355.6 343.5,355.8 C343.9,356.1 344.4,356.3 344.8,356.5 C345.2,356.6 345.7,356.7 346.1,356.8 C346.5,356.9 347.0,356.9 347.4,356.9 C347.8,356.8 348.3,356.8 348.7,356.5 C349.1,356.2 349.6,355.5 350.0,354.9 C350.4,354.2 350.9,353.4 351.3,352.6 C351.7,351.7 352.2,350.9 352.6,349.7 C353.0,348.6 353.5,347.0 353.9,345.6 C354.3,344.1 354.8,342.6 355.2,341.0 C355.6,339.4 356.1,337.5 356.5,335.9 C356.9,334.4 357.4,332.9 357.8,331.6 C358.2,330.2 358.7,329.0 359.1,327.9 C359.5,326.8 360.0,325.8 360.4,325.0 C360.8,324.3 361.3,324.0 361.7,323.6 C362.1,323.1 362.6,322.7 363.0,322.3 C363.4,321.9 363.9,321.5 364.3,321.2 C364.7,320.9 365.2,320.6 365.6,320.5 C366.0,320.4 366.5,320.4 366.9,320.6 C367.3,320.7 367.8,320.9 368.2,321.3 C368.6,321.7 369.1,322.3 369.5,323.1 C369.9,324.0 370.4,325.1 370.8,326.3 C371.2,327.5 371.7,328.8 372.1,330.5 C372.5,332.2 373.0,334.3 373.4,336.5 C373.8,338.6 374.3,341.1 374.7,343.5 C375.1,345.8 375.6,348.1 376.0,350.5 C376.4,352.8 376.9,355.4 377.3,357.5 C377.7,359.7 378.2,361.4 378.6,363.1 C379.0,364.9 379.5,366.6 379.9,367.9 C380.3,369.2 380.8,370.1 381.2,371.1 C381.6,372.0 382.1,373.0 382.5,373.8 C382.9,374.6 383.4,375.5 383.8,376.1 C384.2,376.7 384.7,377.1 385.1,377.6 C385.5,378.1 386.0,378.7 386.4,379.1 C386.8,379.5 387.3,379.8 387.7,380.0 C388.1,380.3 388.6,380.5 389.0,380.5 C389.4,380.6 389.9,380.5 390.3,380.3 C390.7,380.1 391.2,379.8 391.6,379.5 C392.0,379.1 392.5,378.7 392.9,378.3 C393.3,378.0 393.8,377.5 394.2,377.1 C394.6,376.7 395.1,376.2 395.5,375.7 C395.9,375.2 396.4,374.5 396.8,374.1 C397.2,373.8 397.7,373.7 398.1,373.7 C398.5,373.6 399.0,373.7 399.4,373.9 C399.8,374.1 400.3,374.3 400.7,374.9 C401.1,375.5 401.6,376.5 402.0,377.4 C402.4,378.3 402.9,379.4 403.3,380.2 C403.7,381.0 404.2,381.6 404.6,382.1 C405.0,382.6 405.5,383.1 405.9,383.5 C406.3,383.8 406.8,384.0 407.2,384.0 C407.6,384.0 408.1,383.5 408.5,383.3 C408.9,383.1 409.4,383.0 409.8,382.9 C410.2,382.9 410.7,382.8 411.1,382.9 C411.5,383.0 412.0,383.2 412.4,383.5 C412.8,383.8 413.3,384.2 413.7,384.6 C414.1,385.0 414.6,385.4 415.0,385.8 C415.4,386.2 415.9,386.7 416.3,387.0 C416.7,387.4 417.2,387.7 417.6,387.9 C418.0,388.2 418.5,388.4 418.9,388.5 C419.3,388.6 419.8,388.6 420.2,388.6 C420.6,388.6 421.1,388.5 421.5,388.4 C421.9,388.4 422.4,388.3 422.8,388.3 C423.2,388.3 423.7,388.3 424.1,388.3 C424.5,388.4 425.0,388.4 425.4,388.5 C425.8,388.6 426.3,388.7 426.7,388.8 C427.1,389.0 427.6,389.1 428.0,389.2 C428.4,389.3 428.9,389.5 429.3,389.6 C429.7,389.7 430.2,389.7 430.6,389.7 C431.0,389.8 431.5,389.8 431.9,389.8 C432.3,389.8 432.8,389.8 433.2,389.8 C433.6,389.7 434.1,389.6 434.5,389.6 C434.9,389.5 435.4,389.4 435.8,389.4 C436.2,389.3 436.7,389.2 437.1,389.2 C437.5,389.1 438.0,389.0 438.4,389.0 C438.8,388.9 439.3,388.8 439.7,388.6 C440.1,388.4 440.6,388.2 441.0,387.9 C441.4,387.5 441.9,387.1 442.3,386.7 C442.7,386.2 443.2,385.7 443.6,385.2 C444.0,384.6 444.5,384.1 444.9,383.6 C445.3,383.1 445.8,382.6 446.2,382.3 C446.6,381.9 447.1,381.6 447.5,381.4 C447.9,381.2 448.4,381.3 448.8,381.3 C449.2,381.3 449.7,381.5 450.1,381.6 C450.5,381.8 451.0,382.0 451.4,382.2 C451.8,382.5 452.3,382.9 452.7,383.2 C453.1,383.5 453.6,383.8 454.0,384.2 C454.4,384.5 454.9,384.9 455.3,385.1 C455.7,385.4 456.2,385.5 456.6,385.6 C457.0,385.7 457.5,385.7 457.9,385.6 C458.3,385.4 458.8,385.2 459.2,384.7 C459.6,384.3 460.1,383.6 460.5,382.8 C460.9,382.0 461.4,381.1 461.8,380.0 C462.2,379.0 462.7,377.7 463.1,376.6 C463.5,375.4 464.0,374.3 464.4,373.2 C464.8,372.1 465.3,371.0 465.7,370.0 C466.1,369.0 466.6,368.1 467.0,367.4 C467.4,366.7 467.9,366.2 468.3,365.7 C468.7,365.3 469.2,364.9 469.6,364.6 C470.0,364.2 470.5,364.1 470.9,363.6 C471.3,363.2 471.8,362.5 472.2,361.8 C472.6,361.0 473.1,360.1 473.5,359.2 C473.9,358.3 474.4,357.5 474.8,356.4 C475.2,355.4 475.7,353.7 476.1,352.8 C476.5,351.8 477.0,351.0 477.4,350.5 C477.8,350.0 478.3,349.6 478.7,349.6 C479.1,349.5 479.6,349.7 480.0,350.1 C480.4,350.4 480.9,351.2 481.3,351.9 C481.7,352.6 482.2,353.5 482.6,354.4 C483.0,355.2 483.5,356.2 483.9,357.0 C484.3,357.8 484.8,358.6 485.2,359.2 C485.6,359.8 486.1,360.3 486.5,360.6 C486.9,360.8 487.4,360.8 487.8,360.7 C488.2,360.6 488.7,360.5 489.1,360.0 C489.5,359.4 490.0,358.2 490.4,357.2 C490.8,356.1 491.3,354.8 491.7,353.6 C492.1,352.3 492.6,351.1 493.0,349.7 C493.4,348.3 493.9,346.5 494.3,345.1 C494.7,343.8 495.2,342.5 495.6,341.6 C496.0,340.8 496.5,340.5 496.9,340.2 C497.3,340.0 497.8,340.0 498.2,340.3 C498.6,340.5 499.1,340.8 499.5,341.6 C499.9,342.5 500.4,344.0 500.8,345.4 C501.2,346.8 501.7,348.4 502.1,350.2 C502.5,352.0 503.0,353.9 503.4,356.1 C503.8,358.2 504.3,360.9 504.7,363.1 C505.1,365.3 505.6,367.3 506.0,369.3 C506.4,371.3 506.9,373.4 507.3,375.1 C507.7,376.8 508.2,378.2 508.6,379.4 C509.0,380.6 509.5,381.3 509.9,382.1 C510.3,382.8 510.8,383.3 511.2,383.8 C511.6,384.3 512.1,384.7 512.5,385.0 C512.9,385.4 513.4,385.6 513.8,385.8 C514.2,386.0 514.7,386.1 515.1,386.1 C515.5,386.2 516.0,386.1 516.4,386.0 C516.8,385.9 517.3,385.6 517.7,385.3 C518.1,385.0 518.6,384.6 519.0,384.2 C519.4,383.9 519.9,383.5 520.3,383.2 C520.7,382.9 521.2,382.7 521.6,382.5 C522.0,382.3 522.5,382.1 522.9,382.1 C523.3,382.1 523.8,382.2 524.2,382.4 C524.6,382.6 525.1,382.8 525.5,383.0 C525.9,383.3 526.4,383.7 526.8,384.1 C527.2,384.5 527.7,385.0 528.1,385.5 C528.5,385.9 529.0,386.3 529.4,386.6 C529.8,387.0 530.3,387.3 530.7,387.6 C531.1,387.9 531.6,388.2 532.0,388.3 C532.4,388.5 532.9,388.5 533.3,388.6 C533.7,388.7 534.2,388.8 534.6,388.9 C535.0,389.0 535.5,389.1 535.9,389.2 C536.3,389.3 536.8,389.5 537.2,389.4 C537.6,389.3 538.1,389.1 538.5,388.8 C538.9,388.6 539.4,388.3 539.8,387.8 C540.2,387.3 540.7,386.8 541.1,386.0 C541.5,385.2 542.0,384.1 542.4,383.0 C542.8,381.8 543.3,380.4 543.7,379.2 C544.1,377.9 544.6,376.8 545.0,375.7 C545.4,374.5 545.9,373.3 546.3,372.3 C546.7,371.3 547.2,370.4 547.6,369.6 C548.0,368.9 548.5,368.4 548.9,367.9 C549.3,367.4 549.8,366.9 550.2,366.4 C550.6,365.9 551.1,365.4 551.5,365.0 C551.9,364.5 552.4,364.0 552.8,363.6 C553.2,363.2 553.7,362.6 554.1,362.3 C554.5,362.0 555.0,361.8 555.4,361.6 C555.8,361.5 556.3,361.4 556.7,361.3 C557.1,361.3 557.6,361.3 558.0,361.4 C558.4,361.5 558.9,361.8 559.3,362.0 C559.7,362.2 560.2,362.4 560.6,362.6 C561.0,362.8 561.5,363.0 561.9,363.2 C562.3,363.3 562.8,363.5 563.2,363.7 C563.6,363.9 564.1,364.1 564.5,364.1 C564.9,364.2 565.4,364.3 565.8,364.2 C566.2,364.2 566.7,364.1 567.1,364.0 C567.5,363.9 568.0,363.7 568.4,363.5 C568.8,363.3 569.3,363.0 569.7,362.7 C570.1,362.5 570.6,362.1 571.0,361.9 C571.4,361.8 571.9,361.7 572.3,361.6 C572.7,361.6 573.2,361.6 573.6,361.6 C574.0,361.6 574.5,361.7 574.9,361.8 C575.3,361.9 575.8,362.1 576.2,362.2 C576.6,362.2 577.1,362.3 577.5,362.2 C577.9,362.1 578.4,361.9 578.8,361.7 C579.2,361.4 579.7,361.1 580.1,360.7 C580.5,360.3 581.0,359.8 581.4,359.3 C581.8,358.8 582.3,358.2 582.7,357.7 C583.1,357.1 583.6,356.5 584.0,355.9 C584.4,355.2 584.9,354.5 585.3,353.8 C585.7,353.1 586.2,352.4 586.6,351.7 C587.0,351.0 587.5,350.3 587.9,349.5 C588.3,348.8 588.8,348.1 589.2,347.3 C589.6,346.5 590.1,345.7 590.5,345.0 C590.9,344.2 591.4,343.5 591.8,342.8 C592.2,342.1 592.7,341.4 593.1,340.8 C593.5,340.2 594.0,339.6 594.4,339.1 C594.8,338.6 595.3,338.1 595.7,337.6 C596.1,337.1 596.6,336.5 597.0,335.9 C597.4,335.3 597.9,334.7 598.3,334.1 C598.7,333.4 599.2,332.7 599.6,332.0 C600.0,331.2 600.5,330.2 600.9,329.5 C601.3,328.8 601.8,328.3 602.2,327.9 C602.6,327.5 603.1,327.0 603.5,327.1 C603.9,327.2 604.4,327.6 604.8,328.4 C605.2,329.1 605.7,330.3 606.1,331.7 C606.5,333.1 607.0,335.2 607.4,337.0 C607.8,338.8 608.3,340.5 608.7,342.3 C609.1,344.2 609.6,346.3 610.0,348.2 C610.4,350.0 610.9,352.3 611.3,353.5 C611.7,354.8 612.2,355.3 612.6,355.8 C613.0,356.4 613.5,356.7 613.9,356.8 C614.3,357.0 614.8,357.1 615.2,356.8 C615.6,356.4 616.1,355.3 616.5,354.8 C616.9,354.2 617.4,353.5 617.8,353.2 C618.2,352.9 618.7,352.8 619.1,352.9 C619.5,353.0 620.0,353.3 620.4,353.8 C620.8,354.2 621.3,354.9 621.7,355.6 C622.1,356.4 622.6,357.5 623.0,358.4 C623.4,359.2 623.9,360.1 624.3,360.8 C624.7,361.5 625.2,362.1 625.6,362.5 C626.0,363.0 626.5,363.3 626.9,363.5 C627.3,363.7 627.8,363.7 628.2,363.7 C628.6,363.7 629.1,363.4 629.5,363.5 C629.9,363.6 630.4,363.9 630.8,364.3 C631.2,364.6 631.7,365.1 632.1,365.7 C632.5,366.2 633.0,366.9 633.4,367.8 C633.8,368.6 634.3,369.8 634.7,370.8 C635.1,371.8 635.6,372.7 636.0,373.7 C636.4,374.6 636.9,375.4 637.3,376.2 C637.7,377.1 638.2,377.9 638.6,378.6 C639.0,379.3 639.5,379.8 639.9,380.3 C640.3,380.8 640.8,381.2 641.2,381.5 C641.6,381.8 642.1,382.1 642.5,382.1 C642.9,382.2 643.4,382.0 643.8,381.8 C644.2,381.6 644.7,381.2 645.1,380.8 C645.5,380.3 646.0,379.8 646.4,379.2 C646.8,378.6 647.3,377.9 647.7,377.1 C648.1,376.4 648.6,375.4 649.0,374.5 C649.4,373.6 649.9,372.5 650.3,371.7 C650.7,370.8 651.1,369.9 651.6,369.5 C652.0,369.1 652.8,369.2 653.0,369.2" stroke="#d6455a" stroke-width="1.1" fill="none"/>
<path d="M6.8,358.6 C7.7,357.8 9.5,356.0 11.4,354.5 C13.3,353.0 14.5,352.3 16.3,351.2 C18.1,350.1 18.9,351.7 20.4,348.8 C21.9,345.9 22.5,341.7 23.6,336.6 C24.7,331.5 25.0,327.3 26.0,323.5 C27.0,319.7 26.4,318.9 28.5,317.8 C30.6,316.7 34.3,316.3 36.6,317.8 C38.9,319.3 38.6,321.3 39.9,325.2 C41.2,329.1 41.7,334.3 43.2,337.4 C44.7,340.5 45.6,339.1 47.2,340.6 C48.8,342.1 49.8,343.4 51.3,344.7 C52.8,346.0 53.5,347.0 54.6,347.2 C55.7,347.4 56.0,347.3 57.0,345.5 C58.0,343.7 58.3,339.2 59.4,338.2 C60.5,337.2 61.2,339.0 62.7,340.6 C64.2,342.2 65.5,345.6 66.8,346.3 C68.1,347.0 67.9,343.9 69.2,343.9 C70.5,343.9 71.5,344.5 73.3,346.3 C75.1,348.1 76.2,352.2 78.2,352.9 C80.2,353.6 81.0,350.7 83.1,349.6 C85.2,348.5 86.9,349.2 88.8,347.2 C90.7,345.2 91.2,343.4 92.8,339.8 C94.4,336.2 95.4,332.8 96.9,329.2 C98.4,325.6 98.7,324.2 100.2,321.9 C101.7,319.6 102.8,318.6 104.2,317.8 C105.6,317.0 105.7,317.1 107.3,317.8 C108.9,318.5 110.1,320.8 112.2,321.1 C114.3,321.4 115.3,320.2 117.9,319.5 C120.5,318.8 122.8,318.5 125.2,317.6 C127.6,316.7 128.0,315.0 130.0,315.0 C132.0,315.0 132.4,317.0 135.0,317.6 C137.6,318.2 140.8,316.9 143.2,317.8 C145.6,318.7 145.7,319.8 147.2,321.9 C148.7,324.0 149.0,326.1 150.5,328.4 C152.0,330.7 152.6,332.6 154.6,333.3 C156.6,334.0 158.2,331.5 160.3,331.7 C162.4,331.9 163.3,333.0 165.1,334.1 C166.9,335.2 167.7,336.9 169.2,337.4 C170.7,337.9 171.0,336.0 172.5,336.6 C174.0,337.2 175.0,339.1 176.5,340.6 C178.0,342.1 178.5,343.6 179.8,343.9 C181.1,344.2 181.5,344.7 183.1,342.3 C184.7,339.9 186.4,333.0 187.9,331.7 C189.4,330.4 189.1,333.4 190.4,335.8 C191.7,338.2 193.0,341.8 194.5,343.9 C196.0,346.0 196.6,345.7 197.7,346.3 C198.8,346.9 198.9,345.5 200.0,347.1 C201.1,348.7 202.0,352.0 203.3,354.4 C204.6,356.8 205.0,356.7 206.5,359.3 C208.0,361.9 209.0,364.2 210.6,367.5 C212.2,370.8 213.2,372.4 214.7,375.6 C216.2,378.8 216.4,380.9 217.9,383.7 C219.4,386.5 219.7,388.9 222.0,389.4 C224.3,389.9 226.2,386.4 229.3,386.2 C232.4,386.0 235.1,388.6 237.5,388.6 C239.9,388.6 240.0,388.5 241.5,386.2 C243.0,383.9 243.2,379.9 244.8,377.2 C246.4,374.5 247.6,372.4 249.7,372.7 C251.8,373.0 253.1,376.0 255.4,378.9 C257.7,381.8 258.8,385.5 261.1,387.0 C263.4,388.5 264.5,385.9 266.8,386.2 C269.1,386.5 270.6,388.1 272.5,388.3 C274.4,388.5 274.7,386.9 276.5,387.0 C278.3,387.1 279.1,388.6 281.4,389.0 C283.7,389.4 285.1,389.3 287.9,389.0 C290.7,388.7 293.0,387.1 295.3,387.3 C297.6,387.5 297.5,389.6 299.3,389.9 C301.1,390.2 302.6,389.7 304.2,388.6 C305.8,387.5 306.4,386.3 307.5,384.6 C308.6,382.9 308.1,382.8 309.5,380.0 C310.9,377.2 312.5,373.3 314.7,370.5 C316.9,367.7 318.3,369.2 320.3,366.0 C322.3,362.8 323.2,358.6 324.8,354.7 C326.4,350.8 326.4,347.5 328.2,346.4 C330.0,345.3 331.6,347.4 333.8,349.1 C336.0,350.8 337.1,353.0 339.4,354.7 C341.7,356.4 343.3,357.4 345.1,357.6 C346.9,357.8 346.9,358.6 348.5,355.8 C350.1,353.0 351.4,349.0 353.0,343.4 C354.6,337.8 354.8,332.0 356.4,327.7 C358.0,323.4 359.1,323.7 360.9,322.0 C362.7,320.3 363.8,318.8 365.4,319.3 C367.0,319.8 367.5,320.6 368.8,324.3 C370.1,328.0 370.8,330.6 372.1,337.8 C373.4,345.0 373.9,353.2 375.5,360.4 C377.1,367.6 377.7,369.6 380.0,373.9 C382.3,378.2 384.3,381.1 386.8,381.8 C389.3,382.5 390.4,379.3 392.4,377.3 C394.4,375.3 395.3,371.6 396.9,371.6 C398.5,371.6 399.0,374.6 400.3,377.3 C401.6,380.0 401.8,384.3 403.5,385.2 C405.2,386.1 407.0,381.6 409.0,381.8 C411.0,382.0 411.9,384.8 413.5,386.3 C415.1,387.8 415.3,388.9 416.9,389.2 C418.5,389.5 418.9,387.7 421.4,387.9 C423.9,388.1 425.7,390.0 429.3,390.1 C432.9,390.2 436.5,390.2 439.4,388.5 C442.3,386.8 442.4,383.4 444.0,381.8 C445.6,380.2 445.7,380.2 447.3,380.6 C448.9,381.0 450.2,382.7 451.9,384.0 C453.6,385.3 454.3,387.4 455.9,387.0 C457.5,386.6 458.3,385.1 459.7,381.8 C461.1,378.5 461.7,373.9 463.1,370.5 C464.5,367.1 464.9,366.5 466.5,364.9 C468.1,363.3 469.5,365.1 471.0,362.6 C472.5,360.1 472.8,355.6 473.9,352.5 C475.0,349.4 475.4,347.3 476.6,347.3 C477.8,347.3 478.4,349.4 480.0,352.5 C481.6,355.6 482.7,361.5 484.5,362.6 C486.3,363.7 487.5,361.9 489.1,358.1 C490.7,354.3 491.1,347.5 492.4,343.4 C493.7,339.3 494.4,337.2 495.8,337.4 C497.2,337.6 497.9,340.1 499.2,344.6 C500.5,349.1 501.2,353.5 502.4,360.0 C503.6,366.5 503.9,372.1 505.2,377.0 C506.5,381.9 507.1,382.5 509.0,384.5 C510.9,386.5 512.7,387.5 514.7,387.0 C516.7,386.5 517.4,382.7 519.2,381.8 C521.0,380.9 521.9,381.2 523.7,382.4 C525.5,383.6 526.2,386.5 528.2,387.9 C530.2,389.3 532.0,388.8 533.8,389.2 C535.6,389.6 535.8,390.7 537.2,389.7 C538.6,388.7 539.2,387.6 540.6,384.0 C542.0,380.4 542.4,375.2 544.0,371.6 C545.6,368.0 546.5,368.2 548.5,366.0 C550.5,363.8 552.1,361.1 554.1,360.4 C556.1,359.7 556.6,361.7 558.6,362.6 C560.6,363.5 561.7,365.3 564.2,364.9 C566.7,364.5 568.7,361.2 571.0,360.8 C573.3,360.4 573.7,363.4 575.5,363.1 C577.3,362.8 578.0,361.8 580.0,359.2 C582.0,356.6 583.4,354.0 585.7,350.2 C588.0,346.4 589.3,343.0 591.3,340.1 C593.3,337.2 593.8,338.7 595.8,335.6 C597.8,332.5 599.8,325.8 601.5,324.7 C603.2,323.6 603.2,325.5 604.4,330.0 C605.6,334.5 606.1,340.9 607.5,347.0 C608.9,353.1 609.9,359.1 611.4,360.4 C612.9,361.7 613.4,355.4 614.8,353.6 C616.2,351.8 616.6,349.5 618.2,351.3 C619.8,353.1 621.1,360.0 622.7,362.6 C624.3,365.2 624.8,364.4 626.1,364.4 C627.4,364.4 627.8,360.7 629.4,362.6 C631.0,364.5 632.2,370.1 634.0,373.9 C635.8,377.7 637.2,380.0 638.5,381.8 C639.8,383.6 639.6,383.1 640.7,382.9 C641.8,382.7 642.7,382.4 644.1,380.6 C645.5,378.8 646.2,376.6 647.5,373.9 C648.8,371.2 649.4,368.7 650.4,367.1 C651.4,365.5 652.2,366.2 652.7,366.0" stroke="#050505" stroke-width="1.75" fill="none" stroke-linejoin="round" stroke-linecap="round"/>
<path d="M532.7,392.6L662.6,381.8" stroke="#1212c8" stroke-width="2.3" fill="none"/>
<text x="662" y="51.5" font-size="9" fill="#222" font-weight="normal" text-anchor="start" textLength="10.2" lengthAdjust="spacingAndGlyphs" stroke="#222" stroke-width="0.3">52</text>
<text x="662" y="71.3" font-size="9" fill="#222" font-weight="normal" text-anchor="start" textLength="10.2" lengthAdjust="spacingAndGlyphs" stroke="#222" stroke-width="0.3">50</text>
<text x="662" y="91.8" font-size="9" fill="#222" font-weight="normal" text-anchor="start" textLength="10.2" lengthAdjust="spacingAndGlyphs" stroke="#222" stroke-width="0.3">48</text>
<text x="662" y="113.3" font-size="9" fill="#222" font-weight="normal" text-anchor="start" textLength="10.2" lengthAdjust="spacingAndGlyphs" stroke="#222" stroke-width="0.3">46</text>
<text x="662" y="135.7" font-size="9" fill="#222" font-weight="normal" text-anchor="start" textLength="10.2" lengthAdjust="spacingAndGlyphs" stroke="#222" stroke-width="0.3">44</text>
<text x="662" y="159.1" font-size="9" fill="#222" font-weight="normal" text-anchor="start" textLength="10.2" lengthAdjust="spacingAndGlyphs" stroke="#222" stroke-width="0.3">42</text>
<text x="662" y="183.7" font-size="9" fill="#222" font-weight="normal" text-anchor="start" textLength="10.2" lengthAdjust="spacingAndGlyphs" stroke="#222" stroke-width="0.3">40</text>
<text x="662" y="209.6" font-size="9" fill="#222" font-weight="normal" text-anchor="start" textLength="10.2" lengthAdjust="spacingAndGlyphs" stroke="#222" stroke-width="0.3">38</text>
<text x="662" y="236.8" font-size="9" fill="#222" font-weight="normal" text-anchor="start" textLength="10.2" lengthAdjust="spacingAndGlyphs" stroke="#222" stroke-width="0.3">36</text>
<text x="662" y="265.6" font-size="9" fill="#222" font-weight="normal" text-anchor="start" textLength="10.2" lengthAdjust="spacingAndGlyphs" stroke="#222" stroke-width="0.3">34</text>
<text x="662" y="332.0" font-size="9" fill="#222" font-weight="normal" text-anchor="start" textLength="10.2" lengthAdjust="spacingAndGlyphs" stroke="#222" stroke-width="0.3">80</text>
<text x="662" y="356.0" font-size="9" fill="#222" font-weight="normal" text-anchor="start" textLength="10.2" lengthAdjust="spacingAndGlyphs" stroke="#222" stroke-width="0.3">50</text>
<text x="662" y="380.0" font-size="9" fill="#222" font-weight="normal" text-anchor="start" textLength="10.2" lengthAdjust="spacingAndGlyphs" stroke="#222" stroke-width="0.3">20</text>
<text x="6.3" y="303.4" font-size="9" fill="#1a1a1a" font-weight="normal" text-anchor="start" textLength="12.8" lengthAdjust="spacingAndGlyphs" stroke="#1a1a1a" stroke-width="0.45">Apr</text>
<text x="65" y="303.4" font-size="9" fill="#1a1a1a" font-weight="normal" text-anchor="middle" textLength="17.5" lengthAdjust="spacingAndGlyphs" stroke="#1a1a1a" stroke-width="0.45">May</text>
<text x="122.3" y="303.4" font-size="9" fill="#1a1a1a" font-weight="normal" text-anchor="middle" textLength="14.5" lengthAdjust="spacingAndGlyphs" stroke="#1a1a1a" stroke-width="0.45">Jun</text>
<text x="176.6" y="303.4" font-size="9" fill="#1a1a1a" font-weight="normal" text-anchor="middle" textLength="12.4" lengthAdjust="spacingAndGlyphs" stroke="#1a1a1a" stroke-width="0.45">Jul</text>
<text x="231.3" y="303.4" font-size="9" fill="#1a1a1a" font-weight="normal" text-anchor="middle" textLength="16.2" lengthAdjust="spacingAndGlyphs" stroke="#1a1a1a" stroke-width="0.45">Aug</text>
<text x="291.6" y="303.4" font-size="9" fill="#1a1a1a" font-weight="normal" text-anchor="middle" textLength="16.2" lengthAdjust="spacingAndGlyphs" stroke="#1a1a1a" stroke-width="0.45">Sep</text>
<text x="340.9" y="303.4" font-size="9" fill="#1a1a1a" font-weight="normal" text-anchor="middle" textLength="14.7" lengthAdjust="spacingAndGlyphs" stroke="#1a1a1a" stroke-width="0.45">Oct</text>
<text x="399" y="303.4" font-size="9" fill="#1a1a1a" font-weight="normal" text-anchor="middle" textLength="16.5" lengthAdjust="spacingAndGlyphs" stroke="#1a1a1a" stroke-width="0.45">Nov</text>
<text x="450.6" y="303.4" font-size="9" fill="#1a1a1a" font-weight="normal" text-anchor="middle" textLength="16.4" lengthAdjust="spacingAndGlyphs" stroke="#1a1a1a" stroke-width="0.45">Dec</text>
<text x="501.8" y="303.59999999999997" font-size="9.8" fill="#000" font-weight="bold" text-anchor="middle" textLength="20.8" lengthAdjust="spacingAndGlyphs">2008</text>
<text x="557" y="303.4" font-size="9" fill="#1a1a1a" font-weight="normal" text-anchor="middle" textLength="16.0" lengthAdjust="spacingAndGlyphs" stroke="#1a1a1a" stroke-width="0.45">Feb</text>
<text x="609.5" y="303.4" font-size="9" fill="#1a1a1a" font-weight="normal" text-anchor="middle" textLength="16.0" lengthAdjust="spacingAndGlyphs" stroke="#1a1a1a" stroke-width="0.45">Mar</text>
<text x="6.3" y="409.3" font-size="9" fill="#1a1a1a" font-weight="normal" text-anchor="start" textLength="12.8" lengthAdjust="spacingAndGlyphs" stroke="#1a1a1a" stroke-width="0.45">Apr</text>
<text x="65" y="409.3" font-size="9" fill="#1a1a1a" font-weight="normal" text-anchor="middle" textLength="17.5" lengthAdjust="spacingAndGlyphs" stroke="#1a1a1a" stroke-width="0.45">May</text>
<text x="122.3" y="409.3" font-size="9" fill="#1a1a1a" font-weight="normal" text-anchor="middle" textLength="14.5" lengthAdjust="spacingAndGlyphs" stroke="#1a1a1a" stroke-width="0.45">Jun</text>
<text x="176.6" y="409.3" font-size="9" fill="#1a1a1a" font-weight="normal" text-anchor="middle" textLength="12.4" lengthAdjust="spacingAndGlyphs" stroke="#1a1a1a" stroke-width="0.45">Jul</text>
<text x="231.3" y="409.3" font-size="9" fill="#1a1a1a" font-weight="normal" text-anchor="middle" textLength="16.2" lengthAdjust="spacingAndGlyphs" stroke="#1a1a1a" stroke-width="0.45">Aug</text>
<text x="291.6" y="409.3" font-size="9" fill="#1a1a1a" font-weight="normal" text-anchor="middle" textLength="16.2" lengthAdjust="spacingAndGlyphs" stroke="#1a1a1a" stroke-width="0.45">Sep</text>
<text x="340.9" y="409.3" font-size="9" fill="#1a1a1a" font-weight="normal" text-anchor="middle" textLength="14.7" lengthAdjust="spacingAndGlyphs" stroke="#1a1a1a" stroke-width="0.45">Oct</text>
<text x="399" y="409.3" font-size="9" fill="#1a1a1a" font-weight="normal" text-anchor="middle" textLength="16.5" lengthAdjust="spacingAndGlyphs" stroke="#1a1a1a" stroke-width="0.45">Nov</text>
<text x="450.6" y="409.3" font-size="9" fill="#1a1a1a" font-weight="normal" text-anchor="middle" textLength="16.4" lengthAdjust="spacingAndGlyphs" stroke="#1a1a1a" stroke-width="0.45">Dec</text>
<text x="501.8" y="409.5" font-size="9.8" fill="#000" font-weight="bold" text-anchor="middle" textLength="20.8" lengthAdjust="spacingAndGlyphs">2008</text>
<text x="557" y="409.3" font-size="9" fill="#1a1a1a" font-weight="normal" text-anchor="middle" textLength="16.0" lengthAdjust="spacingAndGlyphs" stroke="#1a1a1a" stroke-width="0.45">Feb</text>
<text x="609.5" y="409.3" font-size="9" fill="#1a1a1a" font-weight="normal" text-anchor="middle" textLength="16.0" lengthAdjust="spacingAndGlyphs" stroke="#1a1a1a" stroke-width="0.45">Mar</text>
<text x="7.1" y="13.4" font-size="11.8" fill="#000" font-weight="bold" text-anchor="start" textLength="28.2" lengthAdjust="spacingAndGlyphs">$TNX</text>
<text x="38.3" y="12.8" font-size="9.6" fill="#000" font-weight="normal" text-anchor="start" textLength="131.5" lengthAdjust="spacingAndGlyphs" stroke="#000" stroke-width="0.3">(10 Year Treasury Note Yield)</text>
<text x="173.3" y="13.1" font-size="8.8" fill="#111" font-weight="normal" text-anchor="start" textLength="20.8" lengthAdjust="spacingAndGlyphs" stroke="#111" stroke-width="0.3">INDX</text>
<text x="6.8" y="23.7" font-size="8.5" fill="#111" font-weight="normal" text-anchor="start" textLength="52.0" lengthAdjust="spacingAndGlyphs" stroke="#111" stroke-width="0.3">27-Mar-2008</text>
<text x="579.4" y="13.2" font-size="9" fill="#606060" font-weight="normal" text-anchor="start" textLength="79.3" lengthAdjust="spacingAndGlyphs">© StockCharts.com</text>
<text x="337.4" y="24.3" font-size="9" fill="#000" font-weight="bold" text-anchor="start" textLength="25.6" lengthAdjust="spacingAndGlyphs">Open</text>
<text x="365.7" y="24.3" font-size="8.6" fill="#222" font-weight="normal" text-anchor="start" textLength="24.6" lengthAdjust="spacingAndGlyphs" stroke="#222" stroke-width="0.3">35.05</text>
<text x="394.8" y="24.3" font-size="9" fill="#000" font-weight="bold" text-anchor="start" textLength="22.0" lengthAdjust="spacingAndGlyphs">High</text>
<text x="419.4" y="24.3" font-size="8.6" fill="#222" font-weight="normal" text-anchor="start" textLength="23.8" lengthAdjust="spacingAndGlyphs" stroke="#222" stroke-width="0.3">35.60</text>
<text x="448.3" y="24.3" font-size="9" fill="#000" font-weight="bold" text-anchor="start" textLength="20.6" lengthAdjust="spacingAndGlyphs">Low</text>
<text x="472.9" y="24.3" font-size="8.6" fill="#222" font-weight="normal" text-anchor="start" textLength="23.8" lengthAdjust="spacingAndGlyphs" stroke="#222" stroke-width="0.3">34.73</text>
<text x="502.6" y="24.3" font-size="9" fill="#000" font-weight="bold" text-anchor="start" textLength="27.0" lengthAdjust="spacingAndGlyphs">Close</text>
<text x="533" y="24.3" font-size="8.6" fill="#222" font-weight="normal" text-anchor="start" textLength="23.9" lengthAdjust="spacingAndGlyphs" stroke="#222" stroke-width="0.3">35.34</text>
<text x="563.5" y="24.3" font-size="9" fill="#000" font-weight="bold" text-anchor="start" textLength="18.0" lengthAdjust="spacingAndGlyphs">Chg</text>
<text x="585.2" y="24.3" font-size="8.6" fill="#222" font-weight="normal" text-anchor="start" textLength="64.3" lengthAdjust="spacingAndGlyphs" stroke="#222" stroke-width="0.3">+0.40 (+1.14%)</text>
<path d="M652.9,23.6L655.8,19.6L658.7,23.6Z" fill="#111"/>
<rect x="8" y="27.6" width="105.5" height="10.4" fill="#fff"/>
<rect x="8" y="38" width="64.0" height="10.0" fill="#fff"/>
<rect x="8" y="48" width="69.0" height="9.6" fill="#fff"/>
<rect x="8" y="57.6" width="134.2" height="9.8" fill="#fff"/>
<path d="M9.4,32.9H16.9" stroke="#000" stroke-width="2.4"/>
<text x="21.2" y="36.1" font-size="9" fill="#1a1a1a" font-weight="bold" text-anchor="start" textLength="22.6" lengthAdjust="spacingAndGlyphs">$TNX</text>
<text x="48.9" y="36.1" font-size="9" fill="#1a1a1a" font-weight="bold" text-anchor="start" textLength="32.3" lengthAdjust="spacingAndGlyphs">(Daily)</text>
<text x="85.9" y="36.1" font-size="9" fill="#1a1a1a" font-weight="bold" text-anchor="start" textLength="26.6" lengthAdjust="spacingAndGlyphs">35.34</text>
<path d="M9.4,42.6H18.2" stroke="#1d2680" stroke-width="1.7"/>
<text x="18.8" y="45.4" font-size="9" fill="#26349c" font-weight="normal" text-anchor="start" textLength="28.2" lengthAdjust="spacingAndGlyphs" stroke="#26349c" stroke-width="0.3">MA(50)</text>
<text x="50.6" y="45.4" font-size="9" fill="#26349c" font-weight="normal" text-anchor="start" textLength="20.0" lengthAdjust="spacingAndGlyphs" stroke="#26349c" stroke-width="0.3">36.21</text>
<path d="M9.4,52.6H18.2" stroke="#d21f33" stroke-width="1.7"/>
<text x="18.8" y="55.4" font-size="9" fill="#d8283c" font-weight="normal" text-anchor="start" textLength="33.0" lengthAdjust="spacingAndGlyphs" stroke="#d8283c" stroke-width="0.3">MA(200)</text>
<text x="54.6" y="55.4" font-size="9" fill="#d8283c" font-weight="normal" text-anchor="start" textLength="21.2" lengthAdjust="spacingAndGlyphs" stroke="#d8283c" stroke-width="0.3">43.00</text>
<path d="M9.4,62.8H18.2" stroke="#1f5f2c" stroke-width="1.7"/>
<text x="18.8" y="65.4" font-size="9" fill="#2c7a3c" font-weight="normal" text-anchor="start" textLength="38.8" lengthAdjust="spacingAndGlyphs" stroke="#2c7a3c" stroke-width="0.3">BB(50,2.0)</text>
<text x="61.6" y="65.4" font-size="9" fill="#2c7a3c" font-weight="normal" text-anchor="start" textLength="79.6" lengthAdjust="spacingAndGlyphs" stroke="#2c7a3c" stroke-width="0.3">33.32 - 36.21 - 39.09</text>
<rect x="8" y="307.2" width="201.5" height="10.0" fill="#fff"/>
<path d="M9.4,312.6H16.9" stroke="#000" stroke-width="2.4"/>
<text x="20.3" y="316" font-size="9" fill="#1a1a1a" font-weight="bold" text-anchor="start" textLength="20.3" lengthAdjust="spacingAndGlyphs">Slow</text>
<text x="45" y="316" font-size="9" fill="#1a1a1a" font-weight="bold" text-anchor="start" textLength="19.4" lengthAdjust="spacingAndGlyphs">STO</text>
<text x="69.3" y="316" font-size="9" fill="#1a1a1a" font-weight="bold" text-anchor="start" textLength="36.9" lengthAdjust="spacingAndGlyphs">%K(36)</text>
<text x="110.9" y="316" font-size="9" fill="#1a1a1a" font-weight="bold" text-anchor="start" textLength="31.4" lengthAdjust="spacingAndGlyphs">%D(3)</text>
<text x="146.2" y="316" font-size="9" fill="#1a1a1a" font-weight="bold" text-anchor="start" textLength="31.4" lengthAdjust="spacingAndGlyphs">32.54,</text>
<text x="182.5" y="316" font-size="9" fill="#d8283c" font-weight="bold" text-anchor="start" textLength="25.5" lengthAdjust="spacingAndGlyphs">29.40</text>
<rect x="127.69999999999999" y="29.1" width="22.8" height="9.2" fill="#fff" stroke="#f3f3f3" stroke-width="0.8"/>
<text x="139.1" y="36.7" font-size="8" fill="#111" font-weight="normal" text-anchor="middle" textLength="20.3" lengthAdjust="spacingAndGlyphs" stroke="#111" stroke-width="0.3">52.48</text>
<rect x="289.40000000000003" y="145.5" width="22.8" height="9.2" fill="#fff" stroke="#f3f3f3" stroke-width="0.8"/>
<text x="300.8" y="153.1" font-size="8" fill="#111" font-weight="normal" text-anchor="middle" textLength="20.3" lengthAdjust="spacingAndGlyphs" stroke="#111" stroke-width="0.3">43.24</text>
<rect x="348.6" y="86.2" width="22.8" height="9.2" fill="#fff" stroke="#f3f3f3" stroke-width="0.8"/>
<text x="360" y="93.8" font-size="8" fill="#111" font-weight="normal" text-anchor="middle" textLength="20.3" lengthAdjust="spacingAndGlyphs" stroke="#111" stroke-width="0.3">46.87</text>
<rect x="479.90000000000003" y="131.20000000000002" width="22.8" height="9.2" fill="#fff" stroke="#f3f3f3" stroke-width="0.8"/>
<text x="491.3" y="138.8" font-size="8" fill="#111" font-weight="normal" text-anchor="middle" textLength="20.3" lengthAdjust="spacingAndGlyphs" stroke="#111" stroke-width="0.3">42.81</text>
<rect x="424.20000000000005" y="204.8" width="22.8" height="9.2" fill="#fff" stroke="#f3f3f3" stroke-width="0.8"/>
<text x="435.6" y="212.4" font-size="8" fill="#111" font-weight="normal" text-anchor="middle" textLength="20.3" lengthAdjust="spacingAndGlyphs" stroke="#111" stroke-width="0.3">38.47</text>
<rect x="525.7" y="263.7" width="22.8" height="9.2" fill="#fff" stroke="#f3f3f3" stroke-width="0.8"/>
<text x="537.1" y="271.3" font-size="8" fill="#111" font-weight="normal" text-anchor="middle" textLength="20.3" lengthAdjust="spacingAndGlyphs" stroke="#111" stroke-width="0.3">34.26</text>
<rect x="575.5" y="177.3" width="22.8" height="9.2" fill="#fff" stroke="#f3f3f3" stroke-width="0.8"/>
<text x="586.9" y="184.9" font-size="8" fill="#111" font-weight="normal" text-anchor="middle" textLength="20.3" lengthAdjust="spacingAndGlyphs" stroke="#111" stroke-width="0.3">39.17</text>
<rect x="623.3000000000001" y="281.29999999999995" width="22.8" height="9.2" fill="#fff" stroke="#f3f3f3" stroke-width="0.8"/>
<text x="634.7" y="288.9" font-size="8" fill="#111" font-weight="normal" text-anchor="middle" textLength="20.3" lengthAdjust="spacingAndGlyphs" stroke="#111" stroke-width="0.3">33.14</text>
</svg>
</body></html>
